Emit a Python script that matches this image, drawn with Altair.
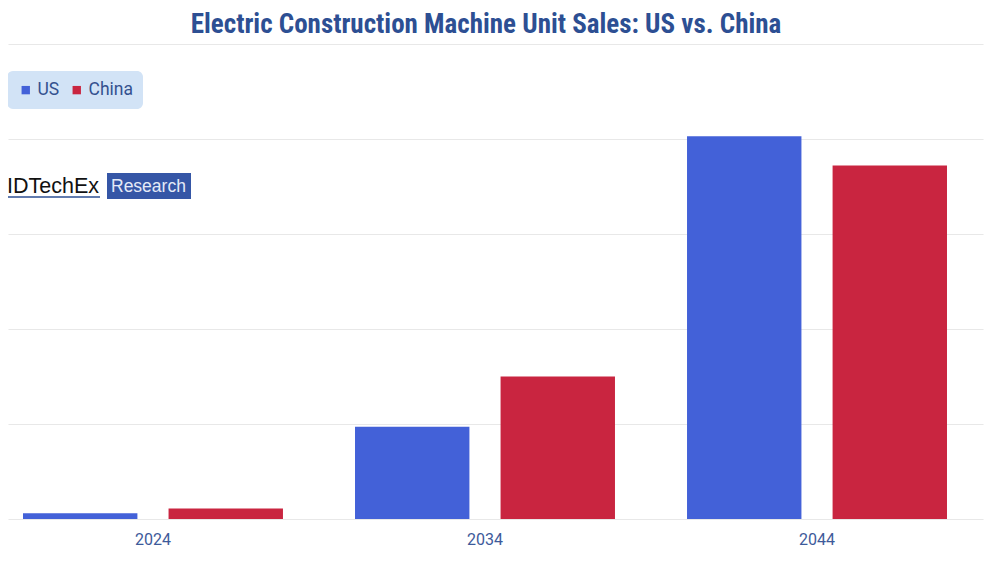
import altair as alt
import pandas as pd

years = ["2024", "2034", "2044"]
series = ["US", "China"]
us_values = [600, 9700, 40300]
china_values = [1100, 15000, 37200]
colors = ["#4361d8", "#c92540"]

rows = []
for i, y in enumerate(years):
    rows.append({"year": y, "series": "US", "value": us_values[i]})
    rows.append({"year": y, "series": "China", "value": china_values[i]})
df = pd.DataFrame(rows)

title_text = "Electric Construction Machine Unit Sales: US vs. China"

bars = alt.Chart(df).mark_bar().encode(
    x=alt.X(
        "year:N",
        sort=years,
        title=None,
        scale=alt.Scale(paddingInner=0.217, paddingOuter=0.0768, align=0.294),
        axis=alt.Axis(
            labelFontSize=16,
            labelColor="#3d5a9a",
            labelFont="Roboto",
            labelPadding=12,
            labelAngle=0,
            ticks=False,
            domain=False,
            grid=False,
        ),
    ),
    xOffset=alt.XOffset("series:N", sort=series, scale=alt.Scale(paddingInner=0.214, paddingOuter=0)),
    y=alt.Y(
        "value:Q",
        title=None,
        scale=alt.Scale(domain=[0, 50000], nice=False),
        axis=alt.Axis(
            values=[0, 10000, 20000, 30000, 40000, 50000],
            labels=False,
            ticks=False,
            domain=False,
            grid=True,
            gridColor="#e8e8e8",
            gridWidth=1.2,
        ),
    ),
    color=alt.Color(
        "series:N",
        sort=series,
        scale=alt.Scale(domain=series, range=colors),
        legend=alt.Legend(
            title=None,
            orient="none",
            legendX=-1,
            legendY=27,
            direction="horizontal",
            symbolType="square",
            symbolSize=70,
            symbolStrokeWidth=0,
            labelFontSize=17.5,
            labelFont="Roboto",
            labelColor="#34518f",
            labelOffset=3,
            columnPadding=8,
            padding=10,
            fillColor="#d2e3f6",
            cornerRadius=6,
        ),
    ),
)

one = alt.Data(values=[{"k": 1}])

title = alt.Chart(one).mark_text(
    text=title_text,
    font="Roboto Condensed, Liberation Sans Narrow, Roboto",
    fontSize=27,
    fontWeight="bold",
    color="#2d4f93",
    align="center",
    baseline="alphabetic",
).encode(x=alt.value(478), y=alt.value(-11))

logo_text = alt.Chart(one).mark_text(
    text="IDTechEx",
    font="Liberation Sans",
    fontSize=21.5,
    color="#111111",
    align="left",
    baseline="alphabetic",
).encode(x=alt.value(-1), y=alt.value(149))

logo_line = alt.Chart(one).mark_rule(color="#2d4f93", strokeWidth=1.5).encode(
    x=alt.value(-1), x2=alt.value(92), y=alt.value(153)
)

logo_box = alt.Chart(one).mark_rect(color="#3556a6").encode(
    x=alt.value(99), x2=alt.value(183), y=alt.value(129), y2=alt.value(155)
)

logo_box_text = alt.Chart(one).mark_text(
    text="Research",
    font="Liberation Sans",
    fontSize=17.5,
    color="#e4eaf7",
    align="left",
    baseline="alphabetic",
).encode(x=alt.value(103), y=alt.value(148))

chart = alt.layer(bars, title, logo_text, logo_line, logo_box, logo_box_text).properties(
    width=975,
    height=475,
    autosize=alt.AutoSizeParams(type="none"),
    padding={"left": 0, "top": 36, "right": 9, "bottom": 37},
).configure(background="white").configure_view(stroke=None)

chart.save("out.html", embed_options={"renderer": "svg", "actions": False})
